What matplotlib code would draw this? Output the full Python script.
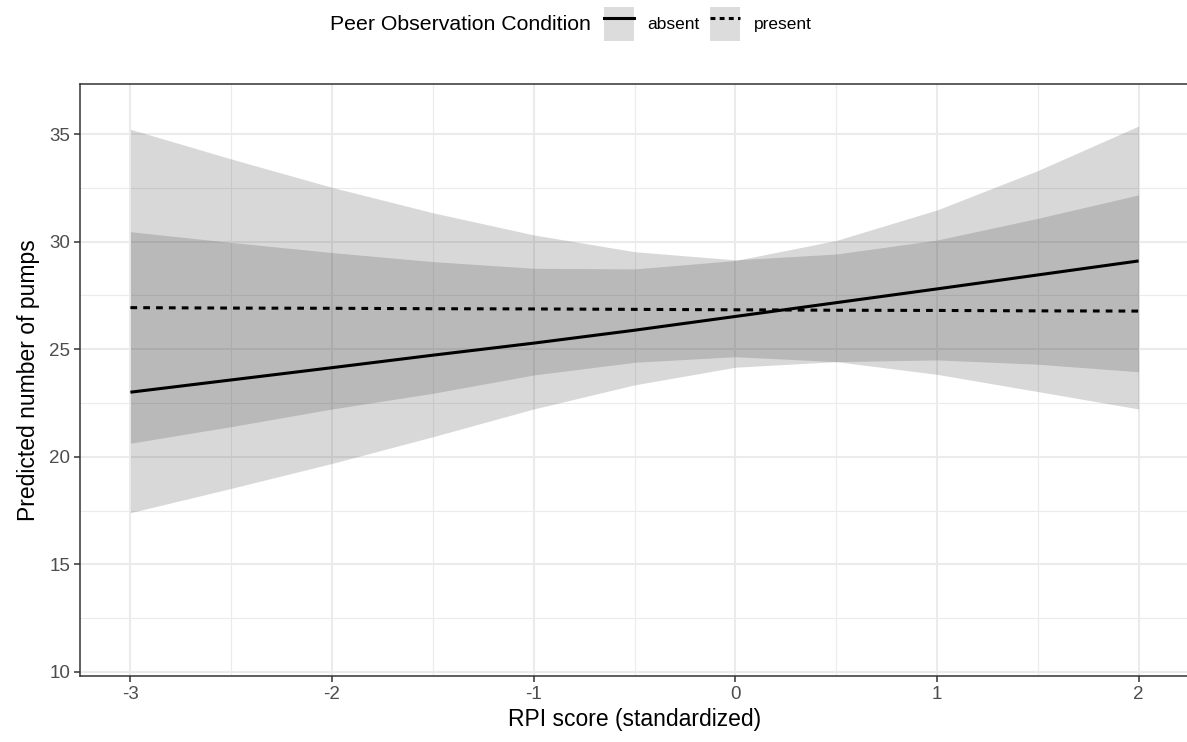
import matplotlib
matplotlib.use("Agg")
import matplotlib.pyplot as plt
from matplotlib.patches import Patch
from matplotlib.lines import Line2D
from matplotlib.legend_handler import HandlerTuple
from matplotlib.ticker import MultipleLocator

plt.rcParams['font.family'] = ['Liberation Sans', 'DejaVu Sans']

# data
rpi = [-3, -2.5, -2, -1.5, -1, -0.5, 0, 0.5, 1, 1.5, 2]
absent_fit = [23.0, 23.57, 24.14, 24.72, 25.28, 25.88, 26.52, 27.16, 27.8, 28.45, 29.1]
absent_lo = [17.40, 18.53, 19.69, 20.93, 22.22, 23.34, 24.16, 24.42, 24.50, 24.30, 23.95]
absent_hi = [30.46, 29.96, 29.49, 29.07, 28.76, 28.73, 29.12, 30.05, 31.47, 33.30, 35.37]
present_fit = [26.93, 26.91, 26.9, 26.88, 26.87, 26.85, 26.83, 26.81, 26.8, 26.78, 26.77]
present_lo = [20.63, 21.40, 22.22, 22.95, 23.80, 24.39, 24.65, 24.42, 23.83, 23.03, 22.22]
present_hi = [35.22, 33.84, 32.52, 31.34, 30.31, 29.53, 29.15, 29.42, 30.07, 31.08, 32.17]
groups = ['absent', 'present']

W, H = 1187, 742
fig = plt.figure(figsize=(W / 100, H / 100), dpi=100)
ax = fig.add_axes([80 / W, 66 / H, 1109 / W, (676 - 84.3) / H])

band_col = '#303030'
band_alpha = 0.184
ax.fill_between(rpi, absent_lo, absent_hi, color=band_col, alpha=band_alpha, lw=0, zorder=2)
ax.fill_between(rpi, present_lo, present_hi, color=band_col, alpha=band_alpha, lw=0, zorder=2)
ax.plot(rpi, absent_fit, color='black', lw=2.2, solid_capstyle='butt', zorder=3)
ax.plot(rpi, present_fit, color='black', lw=2.2, dashes=(2.2, 2.0), zorder=3)

ax.set_xlim(-3.25, 2.25)
ax.set_ylim(9.81, 37.31)
ax.xaxis.set_major_locator(MultipleLocator(1))
ax.xaxis.set_minor_locator(MultipleLocator(0.5))
ax.yaxis.set_major_locator(MultipleLocator(5))
ax.yaxis.set_minor_locator(MultipleLocator(2.5))
ax.set_xticks([-3, -2, -1, 0, 1, 2])
ax.set_xticklabels(['-3', '-2', '-1', '0', '1', '2'])

ax.grid(which='major', color='#EBEBEB', lw=1.5, zorder=0)
ax.grid(which='minor', color='#EBEBEB', lw=0.8, zorder=0)
ax.set_axisbelow(True)

for s in ['left', 'bottom', 'top']:
    ax.spines[s].set_color('#333333')
    ax.spines[s].set_linewidth(1.1)
ax.spines['right'].set_visible(False)

ax.tick_params(which='major', length=4, width=1.1, color='#333333',
               labelcolor='#4D4D4D', labelsize=13.5, pad=3)
ax.tick_params(which='minor', length=0)

ax.set_xlabel('RPI score (standardized)', fontsize=16.5, color='black', labelpad=4)
ax.set_ylabel('Predicted number of pumps', fontsize=16.5, color='black', labelpad=7)

# legend on top, title to the left of the keys
fig.text(330 / W, 1 - 25 / H, 'Peer Observation Condition', fontsize=15.3,
         va='center', ha='left')
handles = []
for dash in [None, (1.6, 1.4)]:
    p = Patch(facecolor='#DCDCDC', edgecolor='none')
    if dash is None:
        ln = Line2D([], [], color='black', lw=2.2)
    else:
        ln = Line2D([], [], color='black', lw=2.2, dashes=dash)
    handles.append((p, ln))
fig.legend(handles, groups, loc='center left', bbox_to_anchor=(604 / W, 1 - 24 / H),
           ncol=2, frameon=False, fontsize=12.5,
           handler_map={tuple: HandlerTuple(ndivide=1, pad=0)},
           handlelength=1.75, handleheight=2.7, handletextpad=0.75,
           columnspacing=0.6, borderpad=0, borderaxespad=0)

fig.savefig('out.png', dpi=100)
